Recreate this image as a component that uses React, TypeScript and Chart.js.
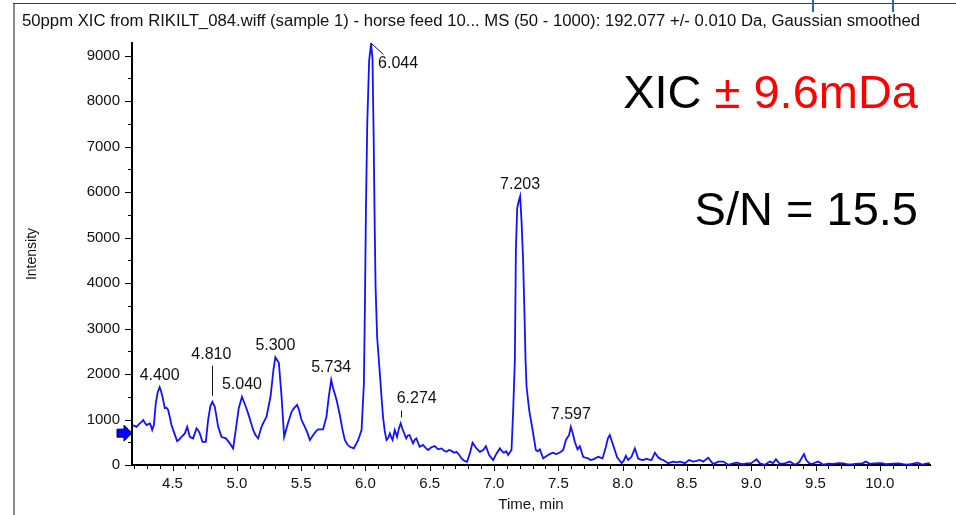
import React, { useEffect, useRef } from 'react';
import { Chart, registerables } from 'chart.js';

Chart.register(...registerables);

// Extracted ion chromatogram: retention time (min) and intensity (counts)
const TIME = [
  4.186, 4.205, 4.220, 4.234, 4.246, 4.260, 4.272, 4.285, 4.298, 4.312, 4.324, 4.334, 4.342, 4.355, 4.370, 4.385,
  4.400, 4.411, 4.422, 4.440, 4.453, 4.466, 4.480, 4.492, 4.514, 4.536, 4.553, 4.570, 4.596, 4.614, 4.625, 4.635,
  4.660, 4.687, 4.700, 4.712, 4.733, 4.759, 4.777, 4.795, 4.810, 4.829, 4.855, 4.881, 4.898, 4.915, 4.946, 4.971,
  4.992, 5.015, 5.040, 5.055, 5.070, 5.088, 5.108, 5.127, 5.145, 5.166, 5.192, 5.210, 5.231, 5.262, 5.285, 5.300,
  5.315, 5.327, 5.348, 5.368, 5.397, 5.426, 5.445, 5.469, 5.485, 5.503, 5.529, 5.550, 5.568, 5.594, 5.615, 5.633,
  5.671, 5.697, 5.715, 5.734, 5.749, 5.776, 5.801, 5.820, 5.840, 5.860, 5.879, 5.910, 5.944, 5.970, 5.988, 5.996,
  6.004, 6.014, 6.029, 6.044, 6.055, 6.064, 6.072, 6.079, 6.091, 6.112, 6.125, 6.137, 6.150, 6.164, 6.178, 6.190,
  6.200, 6.211, 6.228, 6.246, 6.260, 6.274, 6.291, 6.317, 6.330, 6.343, 6.370, 6.385, 6.396, 6.422, 6.448, 6.470,
  6.487, 6.513, 6.539, 6.565, 6.591, 6.610, 6.630, 6.650, 6.669, 6.690, 6.708, 6.730, 6.747, 6.770, 6.790, 6.812,
  6.833, 6.850, 6.864, 6.890, 6.916, 6.937, 6.962, 6.993, 7.020, 7.045, 7.060, 7.076, 7.095, 7.110, 7.136, 7.149,
  7.162, 7.170, 7.180, 7.192, 7.203, 7.214, 7.226, 7.237, 7.245, 7.253, 7.273, 7.300, 7.325, 7.340, 7.356, 7.382,
  7.400, 7.421, 7.440, 7.460, 7.480, 7.499, 7.520, 7.538, 7.559, 7.584, 7.597, 7.612, 7.628, 7.649, 7.667, 7.693,
  7.712, 7.732, 7.751, 7.771, 7.790, 7.810, 7.844, 7.870, 7.885, 7.900, 7.926, 7.957, 7.992, 8.010, 8.025, 8.043,
  8.069, 8.095, 8.121, 8.140, 8.160, 8.186, 8.205, 8.225, 8.251, 8.276, 8.295, 8.315, 8.354, 8.393, 8.420, 8.445,
  8.484, 8.517, 8.548, 8.575, 8.600, 8.626, 8.665, 8.704, 8.743, 8.782, 8.821, 8.860, 8.890, 8.912, 8.940, 8.964,
  9.000, 9.041, 9.067, 9.106, 9.145, 9.170, 9.192, 9.222, 9.261, 9.300, 9.339, 9.373, 9.410, 9.428, 9.450, 9.468,
  9.495, 9.520, 9.559, 9.600, 9.637, 9.680, 9.714, 9.750, 9.792, 9.830, 9.860, 9.891, 9.922, 9.960, 10.013, 10.045,
  10.078, 10.110, 10.142, 10.180, 10.212, 10.250, 10.291, 10.330, 10.360, 10.389,
];

const INTENSITY = [
  880, 860, 840, 880, 915, 950, 990, 930, 880, 900, 915, 850, 770, 880, 1360, 1600,
  1710, 1620, 1500, 1250, 1260, 1210, 1040, 880, 700, 525, 560, 620, 695, 840, 720, 620,
  585, 805, 760, 695, 510, 510, 990, 1300, 1390, 1280, 840, 620, 600, 585, 475, 365,
  770, 1250, 1500, 1390, 1280, 1135, 950, 770, 660, 585, 840, 950, 1060, 1500, 2100, 2370,
  2300, 2240, 1500, 620, 915, 1170, 1250, 1320, 1200, 990, 840, 700, 550, 660, 740, 785,
  785, 1060, 1500, 1870, 1685, 1430, 1100, 800, 550, 450, 400, 365, 550, 770, 1780, 3480,
  5600, 7470, 8900, 9268, 8930, 7220, 5300, 3920, 2820, 2015, 1500, 1060, 750, 550, 600, 697,
  620, 550, 770, 620, 800, 915, 770, 585, 650, 660, 475, 560, 585, 400, 440, 370,
  330, 390, 415, 345, 365, 320, 290, 330, 310, 270, 290, 220, 145, 90, 70, 255,
  490, 420, 365, 290, 330, 415, 220, 110, 255, 365, 310, 270, 300, 220, 330, 1210,
  2310, 4730, 5650, 5800, 5910, 5355, 4510, 3300, 2310, 1720, 1210, 770, 330, 300, 345, 145,
  180, 220, 250, 270, 240, 255, 290, 330, 550, 660, 840, 700, 510, 345, 415, 180,
  160, 145, 110, 125, 150, 180, 145, 400, 580, 660, 440, 170, 40, 100, 200, 110,
  180, 365, 140, 120, 110, 140, 120, 110, 270, 170, 130, 110, 40, 75, 60, 75,
  40, 110, 75, 90, 110, 75, 160, 20, 75, 75, 5, 35, 50, 30, 20, 35,
  40, 125, 35, 5, 75, 40, 125, 25, 35, 75, 5, 60, 240, 110, 40, 20,
  50, 75, 10, 30, 25, 40, 35, 15, 20, 30, 30, 75, 25, 35, 40, 20,
  25, 30, 35, 20, 10, 25, 50, 10, 30, 40,
];

// Labelled peak apexes (retention times, min)
const PEAK_TIMES = [4.4, 4.81, 5.04, 5.3, 5.734, 6.044, 6.274, 7.203, 7.597];

const X_TICKS = [4.5, 5.0, 5.5, 6.0, 6.5, 7.0, 7.5, 8.0, 8.5, 9.0, 9.5, 10.0];
const Y_TICKS = [0, 1000, 2000, 3000, 4000, 5000, 6000, 7000, 8000, 9000];
const X_RANGE = [4.185, 10.39];
const Y_RANGE = [0, 9280];
const THRESHOLD = 700;

const TITLE =
  '50ppm XIC from RIKILT_084.wiff (sample 1) - horse feed 10... MS (50 - 1000): 192.077 +/- 0.010 Da, Gaussian smoothed';
const XIC_PREFIX = 'XIC ';
const XIC_WINDOW = '± 9.6mDa';
const SN_TEXT = 'S/N = 15.5';

const FONT = "'Liberation Sans', Arial, Helvetica, sans-serif";
const TRACE_COLOR = '#1212ff';

// label offsets relative to the apex and optional leader lines (in pixels)
const LABEL_LAYOUT: Record<string, { dx: number; dy: number; leader?: [number, number, number, number]; align?: CanvasTextAlign }> = {
  '4.810': { dx: -1, dy: -47, leader: [0, -6, 0, -36] },
  '6.044': { dx: 7, dy: 20, leader: [0, 0, 12, 11], align: 'left' },
  '6.274': { dx: 16, dy: -25, leader: [0, -6, 0, -13] },
};

const decorPlugin = {
  id: 'chromDecor',
  beforeDraw(chart: Chart) {
    const ctx = chart.ctx;
    ctx.save();
    ctx.fillStyle = '#ffffff';
    ctx.fillRect(0, 0, chart.width, chart.height);
    ctx.restore();
  },
  afterDraw(chart: Chart) {
    const ctx = chart.ctx;
    const xs = chart.scales.x;
    const ys = chart.scales.y;
    const { left, bottom } = chart.chartArea;
    ctx.save();

    // window frame
    ctx.fillStyle = '#8a8a8a';
    ctx.fillRect(13, 4, 2, chart.height - 4);
    ctx.fillStyle = '#3c3c3c';
    ctx.fillRect(13, 3, chart.width - 13, 1);
    ctx.fillStyle = '#2a62c4';
    ctx.fillRect(812, 0, 2, 12);
    ctx.fillRect(892, 0, 2, 12);

    // title, stretched to the window width
    ctx.fillStyle = '#111';
    ctx.font = `16px ${FONT}`;
    ctx.textAlign = 'left';
    ctx.textBaseline = 'alphabetic';
    const tw = ctx.measureText(TITLE).width;
    ctx.save();
    ctx.translate(22, 26);
    ctx.scale(898 / tw, 1);
    ctx.fillText(TITLE, 0, 0);
    ctx.restore();

    // axis tick marks: major and minor
    ctx.strokeStyle = '#000';
    ctx.lineWidth = 1;
    ctx.beginPath();
    for (let k = 42; k <= 103; k++) {
      const v = k / 10;
      const px = Math.round(xs.getPixelForValue(v)) + 0.5;
      const len = k % 5 === 0 ? 5 : 3;
      ctx.moveTo(px, bottom + 1);
      ctx.lineTo(px, bottom + 1 + len);
    }
    for (let v = 0; v <= 9000; v += 500) {
      const py = Math.round(ys.getPixelForValue(v)) + 0.5;
      const len = v % 1000 === 0 ? 6 : 3;
      ctx.moveTo(left - 1, py);
      ctx.lineTo(left - 1 - len, py);
    }
    ctx.stroke();

    // threshold arrow on the intensity axis
    const ty = ys.getPixelForValue(THRESHOLD);
    ctx.beginPath();
    ctx.moveTo(left, ty);
    ctx.lineTo(left - 8, ty - 8);
    ctx.lineTo(left - 8, ty - 4);
    ctx.lineTo(left - 15, ty - 4);
    ctx.lineTo(left - 15, ty + 4);
    ctx.lineTo(left - 8, ty + 4);
    ctx.lineTo(left - 8, ty + 8);
    ctx.closePath();
    ctx.fillStyle = '#0000ff';
    ctx.fill();
    ctx.strokeStyle = '#000060';
    ctx.stroke();

    // peak labels
    ctx.font = `16px ${FONT}`;
    ctx.textBaseline = 'middle';
    ctx.fillStyle = '#111';
    ctx.strokeStyle = '#111';
    PEAK_TIMES.forEach((t) => {
      const idx = TIME.findIndex((v) => Math.abs(v - t) < 1e-9);
      if (idx < 0) return;
      const px = xs.getPixelForValue(t);
      const py = ys.getPixelForValue(INTENSITY[idx]);
      const text = t.toFixed(3);
      const lay = LABEL_LAYOUT[text] || { dx: 0, dy: -12 };
      ctx.textAlign = lay.align || 'center';
      ctx.fillText(text, px + lay.dx, py + lay.dy);
      if (lay.leader) {
        const [x1, y1, x2, y2] = lay.leader;
        ctx.beginPath();
        ctx.moveTo(Math.round(px + x1) + 0.5, py + y1);
        ctx.lineTo(Math.round(px + x2) + 0.5, py + y2);
        ctx.stroke();
      }
    });

    // annotation text
    ctx.font = `47px ${FONT}`;
    ctx.textBaseline = 'alphabetic';
    ctx.textAlign = 'left';
    const w1 = ctx.measureText(XIC_PREFIX).width;
    const w2 = ctx.measureText(XIC_WINDOW).width;
    const x0 = 918 - (w1 + w2);
    ctx.fillStyle = '#000';
    ctx.fillText(XIC_PREFIX, x0, 108);
    ctx.fillStyle = '#ff0000';
    ctx.fillText(XIC_WINDOW, x0 + w1, 108);
    ctx.fillStyle = '#000';
    ctx.textAlign = 'right';
    ctx.fillText(SN_TEXT, 918, 225);

    ctx.restore();
  },
};

export default function App() {
  const canvasRef = useRef<HTMLCanvasElement>(null);

  useEffect(() => {
    const canvas = canvasRef.current;
    if (!canvas) return;
    const tickFont = { family: FONT, size: 15 };
    const chart = new Chart(canvas, {
      type: 'line',
      data: {
        datasets: [
          {
            data: TIME.map((t, i) => ({ x: t, y: INTENSITY[i] })),
            borderColor: TRACE_COLOR,
            borderWidth: 1.8,
            pointRadius: 0,
            tension: 0,
            fill: false,
          },
        ],
      },
      options: {
        animation: false,
        responsive: false,
        maintainAspectRatio: false,
        devicePixelRatio: 1,
        events: [],
        layout: { padding: { top: 43, right: 26, left: 0, bottom: 0 } },
        plugins: { legend: { display: false }, tooltip: { enabled: false }, title: { display: false } },
        scales: {
          x: {
            type: 'linear',
            min: X_RANGE[0],
            max: X_RANGE[1],
            afterBuildTicks: (s: any) => {
              s.ticks = X_TICKS.map((v) => ({ value: v }));
            },
            afterFit: (s: any) => {
              s.height = 50;
              s.paddingLeft = 0;
              s.paddingRight = 0;
            },
            ticks: {
              autoSkip: false,
              maxRotation: 0,
              padding: 10,
              color: '#111',
              font: tickFont,
              callback: (v: any) => Number(v).toFixed(1),
            },
            grid: { display: true, drawOnChartArea: false, drawTicks: false },
            border: { display: true, color: '#000', width: 2 },
            title: {
              display: true,
              text: 'Time, min',
              color: '#111',
              font: { family: FONT, size: 15 },
              padding: { top: 1, bottom: 1 },
            },
          },
          y: {
            type: 'linear',
            min: Y_RANGE[0],
            max: Y_RANGE[1],
            afterBuildTicks: (s: any) => {
              s.ticks = Y_TICKS.map((v) => ({ value: v }));
            },
            afterFit: (s: any) => {
              s.width = 132;
              s.paddingTop = 0;
              s.paddingBottom = 0;
            },
            ticks: {
              autoSkip: false,
              padding: 12,
              color: '#111',
              font: tickFont,
              callback: (v: any) => String(v),
            },
            grid: { display: true, drawOnChartArea: false, drawTicks: false },
            border: { display: true, color: '#000', width: 2 },
            title: {
              display: true,
              text: 'Intensity',
              color: '#111',
              font: { family: FONT, size: 14 },
              padding: { top: 24, bottom: 24 },
            },
          },
        },
      },
      plugins: [decorPlugin],
    } as any);
    return () => chart.destroy();
  }, []);

  return (
    <div style={{ position: 'fixed', left: 0, top: 0, width: 956, height: 515, background: '#fff' }}>
      <canvas ref={canvasRef} width={956} height={515} style={{ display: 'block', width: 956, height: 515 }} />
    </div>
  );
}
